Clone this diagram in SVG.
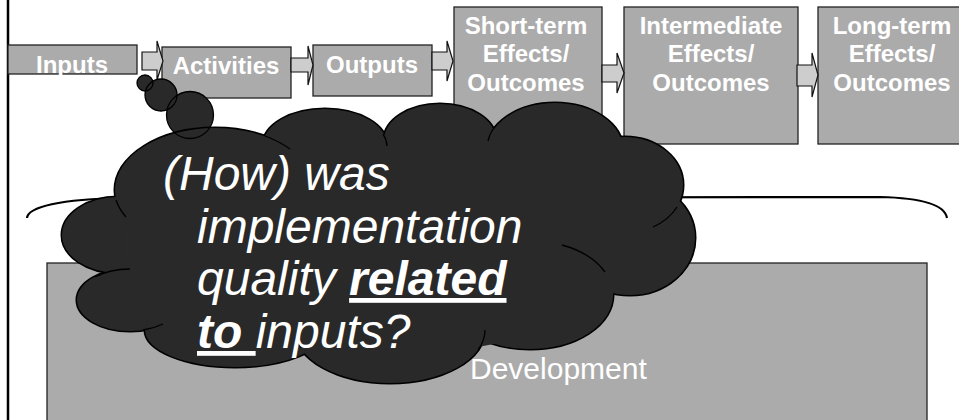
<svg xmlns="http://www.w3.org/2000/svg" width="959" height="420" viewBox="0 0 959 420">
  <defs>
    <style>
      .box { fill: #ababab; stroke: #222; stroke-width: 1.3; }
      .lbl { fill: #fff; font-family: "Liberation Sans", Arial, sans-serif; font-weight: bold; font-size: 24px; text-anchor: middle; }
      .arrow { fill: #cdcdcd; stroke: #111; stroke-width: 1.2; stroke-linejoin: miter; }
      .cloud-edge { fill: #292929; stroke: #000; stroke-width: 3; }
      .cloud-fill { fill: #292929; stroke: none; }
      .cloud-line { fill: none; stroke: #000; stroke-width: 1.3; }
      .bubble-fill { fill: #292929; stroke: none; }
      .bubble-line { fill: none; stroke: #000; stroke-width: 1.3; }
      .q { fill: #fff; font-family: "Liberation Sans", Arial, sans-serif; font-style: italic; font-size: 48px; }
    </style>
    <!-- lobes of the thought cloud -->
    <g id="lobes">
      <ellipse cx="118" cy="235" rx="56" ry="38"/>
      <ellipse cx="130" cy="300" rx="53" ry="31"/>
      <ellipse cx="235" cy="330" rx="90" ry="37"/>
      <ellipse cx="390" cy="330" rx="95" ry="53"/>
      <ellipse cx="530" cy="295" rx="83" ry="54"/>
      <ellipse cx="630" cy="238" rx="65" ry="57"/>
      <ellipse cx="625" cy="185" rx="58" ry="48"/>
      <ellipse cx="555" cy="150" rx="68" ry="47"/>
      <ellipse cx="440" cy="140" rx="56" ry="36"/>
      <ellipse cx="325" cy="145" rx="62" ry="36"/>
      <ellipse cx="215" cy="190" rx="100" ry="62"/>
    </g>
    <g id="bubbles">
      <circle cx="145" cy="83" r="8"/>
      <circle cx="161" cy="95" r="16"/>
      <circle cx="190" cy="115" r="23.5"/>
    </g>
  </defs>

  <rect x="0" y="0" width="959" height="420" fill="#fff"/>

  <!-- left frame edge -->
  <line x1="8" y1="0" x2="8" y2="420" stroke="#000" stroke-width="2.5"/>

  <!-- logic model chain -->
  <g id="inputs">
    <rect class="box" x="8" y="45" width="129" height="29"/>
    <text class="lbl" x="72" y="73">Inputs</text>
  </g>
  <g id="activities">
    <rect class="box" x="162" y="47" width="129" height="51"/>
    <text class="lbl" x="226" y="74">Activities</text>
  </g>
  <g id="outputs">
    <rect class="box" x="313" y="45" width="119" height="51"/>
    <text class="lbl" x="372" y="73">Outputs</text>
  </g>
  <g id="short-term">
    <rect class="box" x="454" y="7" width="148" height="137"/>
    <text class="lbl" x="526" y="34">Short-term</text>
    <text class="lbl" x="526" y="62">Effects/</text>
    <text class="lbl" x="526" y="91">Outcomes</text>
  </g>
  <g id="intermediate">
    <rect class="box" x="624" y="7" width="174" height="137"/>
    <text class="lbl" x="711" y="34">Intermediate</text>
    <text class="lbl" x="711" y="62">Effects/</text>
    <text class="lbl" x="711" y="91">Outcomes</text>
  </g>
  <g id="long-term">
    <rect class="box" x="818" y="7" width="148" height="137"/>
    <text class="lbl" x="892" y="34">Long-term</text>
    <text class="lbl" x="892" y="62">Effects/</text>
    <text class="lbl" x="892" y="91">Outcomes</text>
  </g>

  <g id="connectors">
    <path class="arrow" d="M142,52 H157 V41 L163,61 L157,80 V70 H142 Z"/>
    <path class="arrow" d="M291,58 H308 V46 L313,65 L308,85 V72 H291 Z"/>
    <path class="arrow" d="M432,52 H447 V41 L453,61 L447,81 V70 H432 Z"/>
    <path class="arrow" d="M602,65 H617 V53 L624,73 L617,93 V82 H602 Z"/>
    <path class="arrow" d="M797,65 H812 V53 L818,75 L812,97 V86 H797 Z"/>
  </g>

  <!-- brace over the development band -->
  <path id="brace" d="M27,218 C28,207 60,199 123,198 L880,197 C925,198 945,206 947,218" fill="none" stroke="#000" stroke-width="2.2"/>

  <g id="development">
    <rect class="box" x="47" y="263" width="880" height="170"/>
    <text x="470" y="379" fill="#fff" font-family="'Liberation Sans', Arial, sans-serif" font-size="30">Development</text>
  </g>

  <!-- thought cloud callout -->
  <g id="cloud">
    <use href="#bubbles" class="bubble-fill"/>
    <use href="#lobes" class="cloud-edge"/>
    <use href="#lobes" class="cloud-fill"/>
    <ellipse class="cloud-fill" cx="380" cy="245" rx="260" ry="110"/>
    <g class="cloud-line">
      <path d="M265,136 A100,62 0 0 1 290,149"/>
      <path d="M383,134 A62,36 0 0 1 387,146"/>
      <path d="M493,129 A68,47 0 0 0 488,141"/>
      <path d="M677,207 A58,48 0 0 1 653,227"/>
      <path d="M562,245 A83,54 0 0 1 605,272"/>
      <path d="M478,350 A95,53 0 0 0 485,330"/>
      <path d="M301,348 A95,53 0 0 1 296,337"/>
      <path d="M95,277 A53,31 0 0 1 130,269"/>
      <path d="M143,330 A53,31 0 0 0 163,324"/>
      <path d="M116,200 A100,62 0 0 0 126,217"/>
    </g>
    <use href="#bubbles" class="bubble-line"/>
    <text class="q" x="163" y="190">(How) was</text>
    <text class="q" x="197" y="243">implementation</text>
    <text class="q" x="197" y="295">quality <tspan font-weight="bold" text-decoration="underline">related</tspan></text>
    <text class="q" x="197" y="348"><tspan font-weight="bold" text-decoration="underline">to </tspan>inputs?</text>
  </g>
</svg>
